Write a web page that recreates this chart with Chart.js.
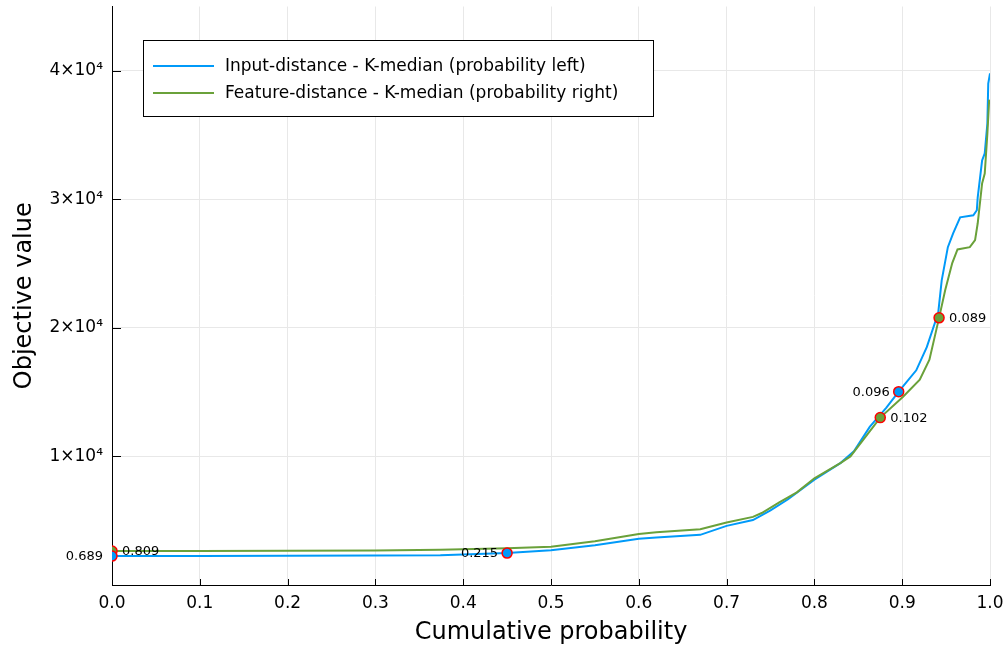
<!DOCTYPE html>
<html>
<head>
<meta charset="utf-8">
<script src="https://cdn.jsdelivr.net/npm/chart.js@4"></script>
<style>
  html, body { margin: 0; padding: 0; background: #fff; }
  #wrap { width: 1005px; height: 651px; }
</style>
</head>
<body>
<div id="wrap"><canvas id="chart" width="1005" height="651"></canvas></div>
<script>
// cumulative probability (x) and objective value (y)
const inputX = [0.0, 0.10, 0.20, 0.30, 0.374, 0.45, 0.50, 0.55, 0.60, 0.62, 0.67, 0.70, 0.73, 0.75, 0.77, 0.80, 0.83, 0.845, 0.863, 0.882, 0.896, 0.916, 0.928, 0.941, 0.945, 0.952, 0.958, 0.966, 0.981, 0.985, 0.986, 0.991, 0.994, 0.997, 0.998, 1.0];
const inputY = [2250, 2260, 2270, 2290, 2310, 2480, 2700, 3100, 3600, 3700, 3900, 4600, 5050, 5800, 6670, 8200, 9500, 10400, 12300, 13800, 15040, 16700, 18500, 21160, 23700, 26280, 27360, 28600, 28760, 29150, 30150, 33020, 33570, 35900, 39000, 39800];

const featureX = [0.0, 0.10, 0.20, 0.30, 0.374, 0.45, 0.50, 0.55, 0.60, 0.62, 0.67, 0.70, 0.73, 0.74, 0.76, 0.78, 0.80, 0.83, 0.841, 0.875, 0.901, 0.920, 0.931, 0.937, 0.942, 0.949, 0.957, 0.963, 0.977, 0.983, 0.986, 0.991, 0.994, 0.997, 0.999, 1.0];
const featureY = [2640, 2650, 2660, 2690, 2740, 2850, 2970, 3400, 3970, 4100, 4340, 4860, 5300, 5600, 6430, 7210, 8300, 9500, 10000, 13020, 14650, 15970, 17520, 19300, 20780, 22950, 25040, 26100, 26280, 26820, 28140, 31240, 32000, 35100, 37680, 37700];

// highlighted points with their labels
const inputMarkX = [0.0, 0.45, 0.896];
const inputMarkY = [2250, 2480, 15040];
const inputMarkLabels = ['0.689', '0.215', '0.096'];
const featureMarkX = [0.0, 0.875, 0.942];
const featureMarkY = [2640, 13020, 20780];
const featureMarkLabels = ['0.809', '0.102', '0.089'];

const seriesNames = ['Input-distance - K-median (probability left)', 'Feature-distance - K-median (probability right)'];
const xTicks = [0, 0.1, 0.2, 0.3, 0.4, 0.5, 0.6, 0.7, 0.8, 0.9, 1.0];
const yTicks = [10000, 20000, 30000, 40000];
const yTickLabels = ['1×10⁴', '2×10⁴', '3×10⁴', '4×10⁴'];

const BLUE = '#009af9';
const GREEN = '#6aa13a';
const FONT = "'DejaVu Sans', sans-serif";

const toPoints = (xs, ys) => xs.map((x, i) => ({ x: x, y: ys[i] }));

// ticks drawn inwards like the original
const innerTicks = {
    id: 'innerTicks',
    afterDatasetsDraw(chart) {
        const { ctx, chartArea, scales } = chart;
        ctx.save();
        ctx.strokeStyle = '#000';
        ctx.lineWidth = 1;
        ctx.beginPath();
        xTicks.forEach(v => {
            const px = Math.round(scales.x.getPixelForValue(v)) + 0.5;
            ctx.moveTo(px, chartArea.bottom);
            ctx.lineTo(px, chartArea.bottom - 6);
        });
        yTicks.forEach(v => {
            const py = Math.round(scales.y.getPixelForValue(v)) + 0.5;
            ctx.moveTo(chartArea.left, py);
            ctx.lineTo(chartArea.left + 9, py);
        });
        ctx.stroke();
        ctx.restore();
    }
};

// numbers next to the highlighted points
const markLabels = {
    id: 'markLabels',
    afterDatasetsDraw(chart) {
        const ctx = chart.ctx;
        ctx.save();
        ctx.font = '13px ' + FONT;
        ctx.fillStyle = '#000';
        ctx.textBaseline = 'middle';
        chart.data.datasets.forEach((ds, i) => {
            if (!ds.markLabels) return;
            chart.getDatasetMeta(i).data.forEach((pt, j) => {
                if (ds.labelSide === 'left') {
                    ctx.textAlign = 'right';
                    ctx.fillText(ds.markLabels[j], pt.x - 9, pt.y + 1);
                } else {
                    ctx.textAlign = 'left';
                    ctx.fillText(ds.markLabels[j], pt.x + 10, pt.y + 1);
                }
            });
        });
        ctx.restore();
    }
};

// boxed legend inside the plot, top left
const boxLegend = {
    id: 'boxLegend',
    afterDraw(chart) {
        const ctx = chart.ctx;
        const lines = chart.data.datasets.filter(ds => ds.inLegend);
        ctx.save();
        ctx.fillStyle = '#fff';
        ctx.fillRect(143, 40, 510, 76);
        ctx.strokeStyle = '#000';
        ctx.lineWidth = 1;
        ctx.strokeRect(143.5, 40.5, 510, 76);
        ctx.font = '17px ' + FONT;
        ctx.textBaseline = 'middle';
        ctx.textAlign = 'left';
        lines.forEach((ds, i) => {
            const y = 66 + i * 27;
            ctx.strokeStyle = ds.borderColor;
            ctx.lineWidth = 2;
            ctx.beginPath();
            ctx.moveTo(153, y);
            ctx.lineTo(214, y);
            ctx.stroke();
            ctx.fillStyle = '#000';
            ctx.fillText(ds.label, 225, y + 1);
        });
        ctx.restore();
    }
};

const ctx = document.getElementById('chart').getContext('2d');
new Chart(ctx, {
    type: 'scatter',
    data: {
        datasets: [
            {
                label: 'inputMarks',
                data: toPoints(inputMarkX, inputMarkY),
                backgroundColor: BLUE,
                borderColor: '#ff0000',
                borderWidth: 1.5,
                pointRadius: 5,
                markLabels: inputMarkLabels,
                labelSide: 'left',
                order: 0
            },
            {
                label: 'featureMarks',
                data: toPoints(featureMarkX, featureMarkY),
                backgroundColor: GREEN,
                borderColor: '#ff0000',
                borderWidth: 1.5,
                pointRadius: 5,
                markLabels: featureMarkLabels,
                labelSide: 'right',
                order: 0
            },
            {
                label: seriesNames[0],
                data: toPoints(inputX, inputY),
                showLine: true,
                borderColor: BLUE,
                borderWidth: 2,
                pointRadius: 0,
                inLegend: true,
                order: 2
            },
            {
                label: seriesNames[1],
                data: toPoints(featureX, featureY),
                showLine: true,
                borderColor: GREEN,
                borderWidth: 2,
                pointRadius: 0,
                inLegend: true,
                order: 1
            }
        ]
    },
    options: {
        responsive: false,
        animation: false,
        layout: { padding: { left: 0, right: 15, top: 5, bottom: 0 } },
        plugins: {
            legend: { display: false },
            tooltip: { enabled: false }
        },
        scales: {
            x: {
                type: 'linear',
                min: 0,
                max: 1,
                afterBuildTicks: scale => { scale.ticks = xTicks.map(v => ({ value: v })); },
                afterFit: scale => {
                    scale.height = 66;
                    scale.paddingLeft = 0;
                    scale.paddingRight = 0;
                },
                ticks: {
                    color: '#000',
                    font: { family: FONT, size: 17 },
                    padding: 8,
                    maxRotation: 0,
                    callback: v => v.toFixed(1)
                },
                grid: { color: '#e8e8e8', drawTicks: false },
                border: { display: true, color: '#000', width: 1 },
                title: {
                    display: true,
                    text: 'Cumulative probability',
                    color: '#000',
                    font: { family: FONT, size: 24 },
                    padding: { top: 0, bottom: 4 }
                }
            },
            y: {
                type: 'linear',
                min: 0,
                max: 45000,
                afterBuildTicks: scale => { scale.ticks = yTicks.map(v => ({ value: v })); },
                afterFit: scale => {
                    scale.width = 112;
                    scale.paddingTop = 0;
                    scale.paddingBottom = 0;
                },
                ticks: {
                    color: '#000',
                    font: { family: FONT, size: 17 },
                    padding: 9,
                    callback: v => yTickLabels[yTicks.indexOf(v)]
                },
                grid: { color: '#e8e8e8', drawTicks: false },
                border: { display: true, color: '#000', width: 1 },
                title: {
                    display: true,
                    text: 'Objective value',
                    color: '#000',
                    font: { family: FONT, size: 24 },
                    padding: { top: 10, bottom: 0 }
                }
            }
        }
    },
    plugins: [innerTicks, markLabels, boxLegend]
});
</script>
</body>
</html>
